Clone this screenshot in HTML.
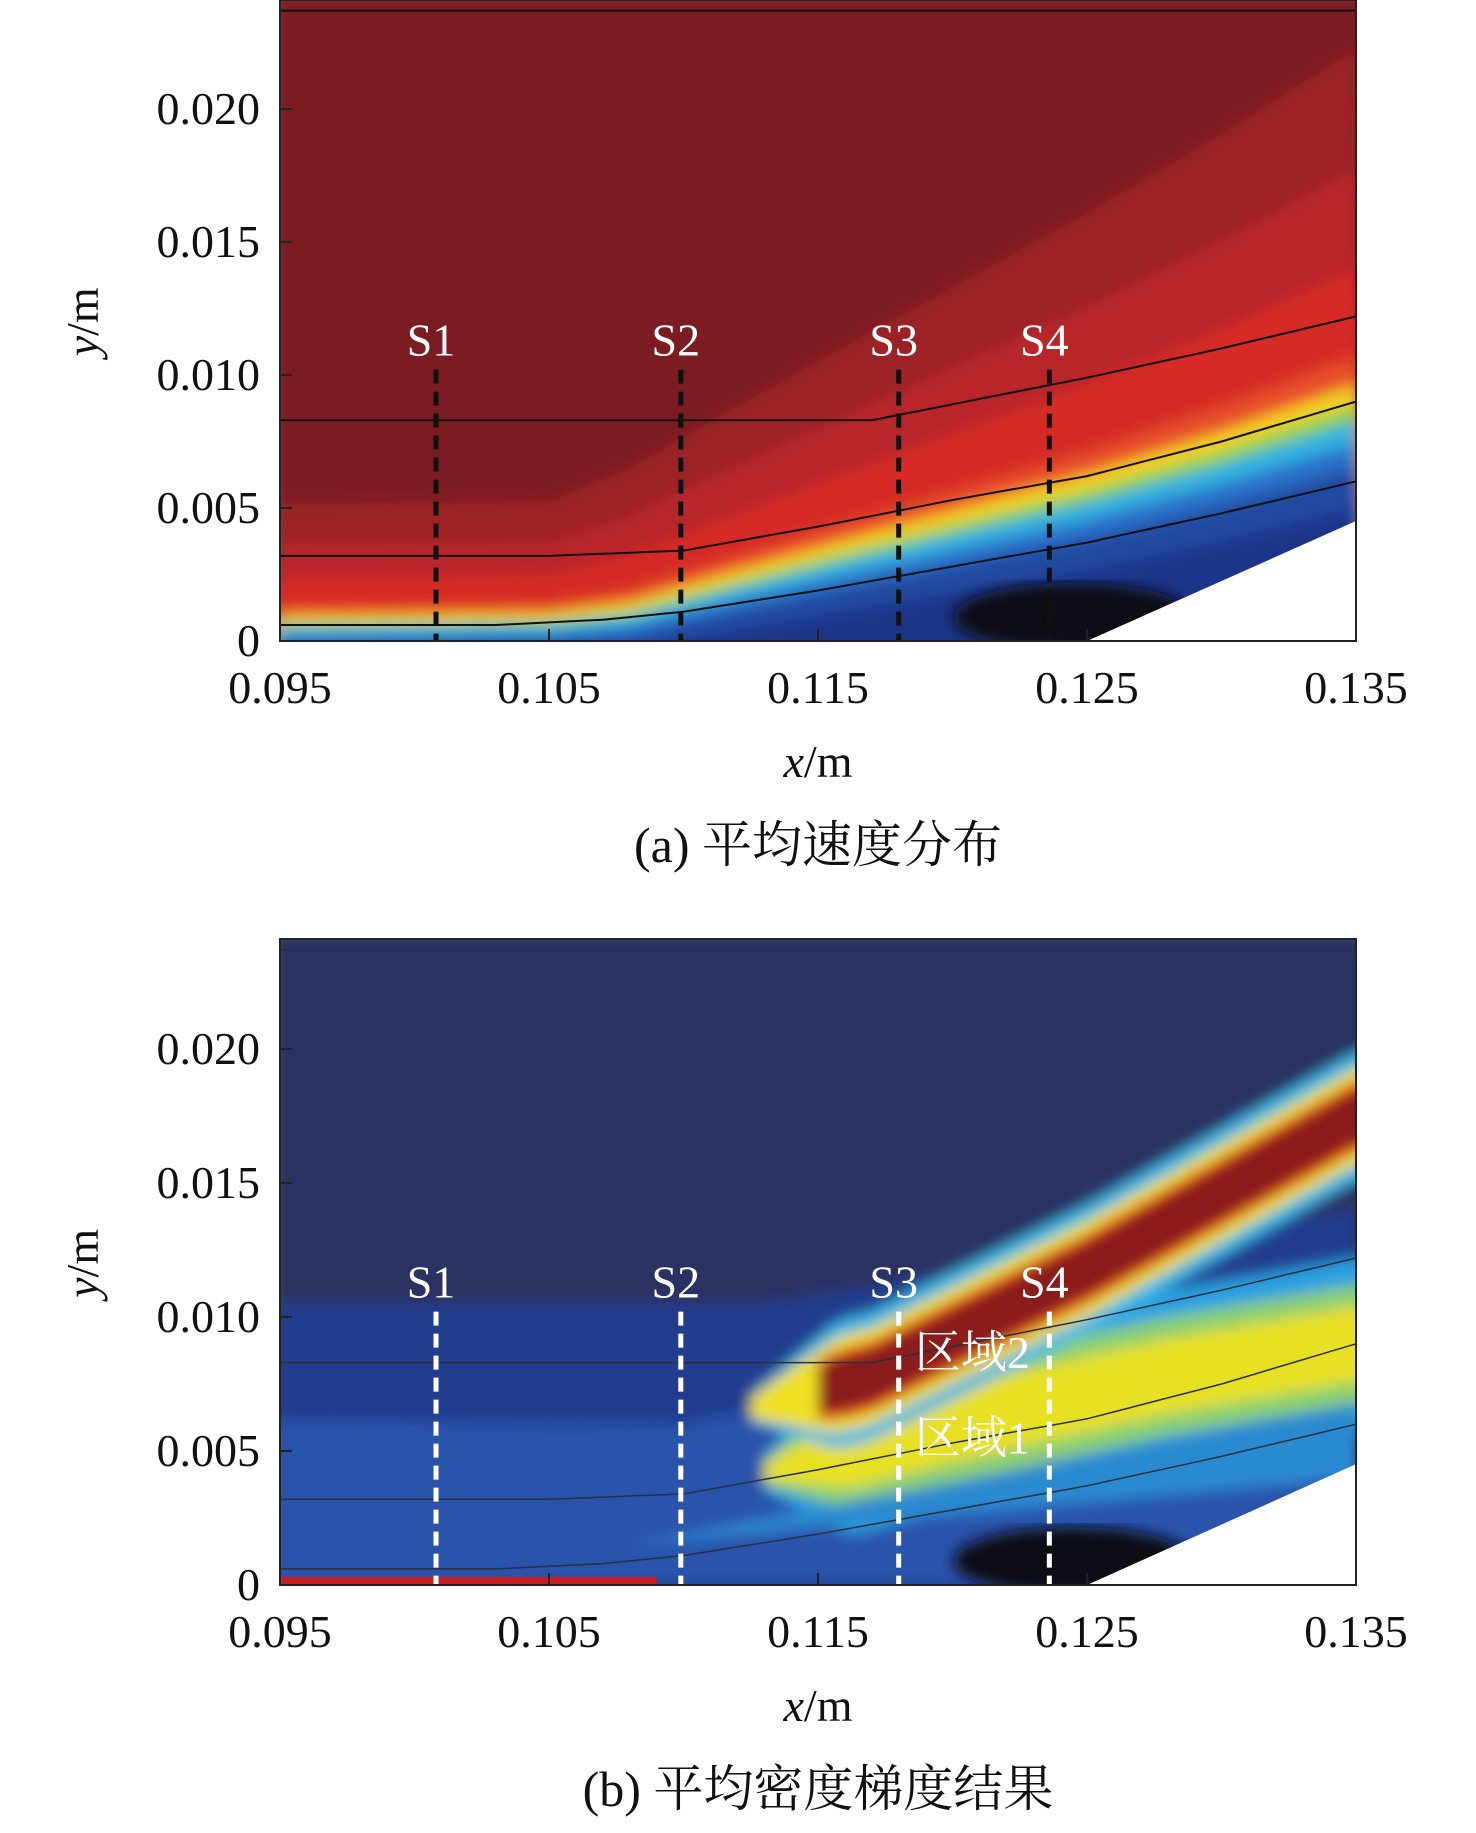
<!DOCTYPE html>
<html><head><meta charset="utf-8"><style>
html,body{margin:0;padding:0;background:#fff;}
svg{display:block;}
text{font-family:"Liberation Serif","Noto Serif CJK SC",serif;}
</style></head><body>
<svg id="fig" width="1476" height="1833" viewBox="0 0 1476 1833" xmlns="http://www.w3.org/2000/svg">
<defs>
<filter id="blur" x="-5%" y="-5%" width="110%" height="110%"><feGaussianBlur stdDeviation="7"/></filter>
<clipPath id="clipA"><rect x="280" y="0" width="1076" height="641"/></clipPath>
<clipPath id="clipB"><rect x="280" y="939" width="1076" height="646"/></clipPath>
</defs>
<g id="root"></g>
</svg>
<script>
const xTicks=[0.095,0.105,0.115,0.125,0.135];
const xTickLabels=["0.095","0.105","0.115","0.125","0.135"];
const yTicks=[0,0.005,0.010,0.015,0.020];
const yTickLabels=["0","0.005","0.010","0.015","0.020"];
const sectionNames=["S1","S2","S3","S4"];
const sectionX=[0.1008,0.1099,0.1180,0.1236];
const sectionTop=[0.0102,0.0102,0.0102,0.0102];
const edgeX=[0.095,0.105,0.108,0.111,0.115,0.120,0.125,0.130,0.135];
const edgeY=[0.0004,0.0005,0.0008,0.0016,0.0026,0.0038,0.0050,0.0064,0.0080];
const velLayerOff=[0.0095,0.0065,0.0040,0.0018,0.0011,0.0006,0.0002,-0.0004,-0.0010,-0.0020];
const velLayerColor=["#9c2228","#b8252a","#d62a28","#e8502a","#f5d020","#8fd44a","#30b0e0","#2a70c8","#2448a0","#1c3488"];
const stream1X=[0.095,0.135];const stream1Y=[0.0237,0.0237];
const stream2X=[0.095,0.117,0.120,0.125,0.130,0.135];const stream2Y=[0.0083,0.0083,0.0089,0.0099,0.0110,0.0122];
const stream3X=[0.095,0.105,0.110,0.115,0.120,0.125,0.130,0.135];const stream3Y=[0.0032,0.0032,0.0034,0.0043,0.0053,0.0062,0.0075,0.0090];
const stream4X=[0.095,0.103,0.107,0.110,0.115,0.120,0.125,0.130,0.135];const stream4Y=[0.0006,0.0006,0.0008,0.0011,0.0019,0.0028,0.0037,0.0048,0.0060];
const shockX=[0.1125,0.117,0.125,0.135];const shockY=[0.0066,0.0078,0.0118,0.0175];
const zone1X=[0.113,0.120,0.128,0.135];const zone1Y=[0.0042,0.0060,0.0078,0.0090];

const NS="http://www.w3.org/2000/svg";
const root=document.getElementById('root');
function X(v){return 280+(v-0.095)/0.04*1076;}
function mk(tag,attrs,parent){const e=document.createElementNS(NS,tag);for(const k in attrs)e.setAttribute(k,attrs[k]);(parent||root).appendChild(e);return e;}
function interp(xs,ys,x){if(x<=xs[0])return ys[0];for(let i=1;i<xs.length;i++){if(x<=xs[i]){const t=(x-xs[i-1])/(xs[i]-xs[i-1]);return ys[i-1]+t*(ys[i]-ys[i-1]);}}return ys[ys.length-1];}
function w(x){return x<=0.105?0.5:0.5+(x-0.105)/0.03*1.0;}
function curvePts(fn,Y){let p=[];for(let x=0.095;x<=0.13501;x+=0.0005)p.push(X(x).toFixed(1)+","+Y(fn(x)).toFixed(1));return p;}

function panel(Y,top,bottom,clipId,kind){
  const g=mk('g',{'clip-path':'url(#'+clipId+')'});
  
  
  const fg=mk('g',{filter:'url(#blur)'},g);
  if(kind==='a'){
    mk('rect',{x:270,y:top-10,width:1100,height:bottom-top+20,fill:'#7a1f24'},fg);
    for(let i=0;i<velLayerOff.length;i++){
      const off=velLayerOff[i];
      const pts=curvePts(x=>interp(edgeX,edgeY,x)+off*w(x),Y);
      pts.push("1370,"+(bottom+20),"270,"+(bottom+20));
      const p=mk('polygon',{points:pts.join(" "),fill:velLayerColor[i]},fg);
      
      
    }
  } else {
    mk('rect',{x:270,y:top-10,width:1100,height:bottom-top+20,fill:'#2b3262'},fg);
    mk('polygon',{points:[X(0.090)+","+Y(0.0105),X(0.113)+","+Y(0.0105),X(0.135)+","+Y(0.014),X(0.135)+","+Y(-0.001),X(0.090)+","+Y(-0.001)].join(" "),fill:'#243e8e'},fg);
    mk('polygon',{points:[X(0.090)+","+Y(0.0062),X(0.110)+","+Y(0.0060),X(0.135)+","+Y(0.011),X(0.135)+","+Y(0.0),X(0.090)+","+Y(0.0)].join(" "),fill:'#2a52ac'},fg);
    const bands=[[0.0032,'#2aa0e0',zone1X,zone1Y],[0.0022,'#8cd070',zone1X,zone1Y],[0.0014,'#e8e020',zone1X,zone1Y],
                 [0.0024,'#3ab8e8',shockX,shockY],[0.0018,'#f0e020',shockX,shockY],[0.0013,'#e03020',shockX,shockY],[0.0010,'#8a1a1a',shockX,shockY]];
    for(const b of bands){
      const up=[],dn=[];const x0=b[2][0]+(b[0]<0.0014&&b[2]===shockX?0.0025:0);
      for(let x=x0;x<=0.1371;x+=0.0005){const c=interp(b[2],b[3],x);const h=b[0]*Math.min(1,(x-b[2][0]+0.0008)/0.004);up.push(X(x).toFixed(1)+","+Y(c+h).toFixed(1));dn.unshift(X(x).toFixed(1)+","+Y(c-h).toFixed(1));}
      const p=mk('polygon',{points:up.concat(dn).join(" "),fill:b[1]},fg);
      
      
    }
    mk('polygon',{points:[X(0.108)+","+Y(0.0015),X(0.135)+","+Y(0.0068),X(0.135)+","+Y(0.004)].join(" "),fill:'#2a8ad0'},fg);
    mk('rect',{x:280,y:Y(0.0003),width:X(0.109)-280,height:Y(0)-Y(0.0003),fill:'#c82020'},g);
  }
  const ell=mk('ellipse',{cx:X(0.1245),cy:Y(0.0009),rx:120,ry:34,fill:'#0a0a14',filter:'url(#blur)'},g);
  
  
  const wedge=mk('polygon',{points:[X(0.125)+","+Y(0),X(0.1352)+","+Y(0),X(0.1352)+","+Y(0.0046)].join(" "),fill:'#fff'},g);
  
  
  const sx=[stream1X,stream2X,stream3X,stream4X],sy=[stream1Y,stream2Y,stream3Y,stream4Y];
  for(let i=0;i<4;i++){
    const pts=[];for(let x=0.095;x<=0.13501;x+=0.001)pts.push(X(x).toFixed(1)+","+Y(interp(sx[i],sy[i],x)).toFixed(1));
    const l=mk('polyline',{points:pts.join(" "),fill:'none',stroke:kind==='a'?'#111':'#2a3040','stroke-width':kind==='a'?2:1.5},g);
    
    
  }
  for(let i=0;i<sectionX.length;i++){
    const l=mk('line',{x1:X(sectionX[i]),x2:X(sectionX[i]),y1:Y(sectionTop[i]),y2:Y(0),stroke:kind==='a'?'#111':'#fff','stroke-width':5,'stroke-dasharray':'14,8'},g);
    
    
    const t=mk('text',{x:X(sectionX[i])-5,y:Y(sectionTop[i])-14,'text-anchor':'middle','font-size':46,fill:'#fff'});
    t.textContent=sectionNames[i];
    
    
  }
  if(kind==='b'){
    const z2=mk('text',{x:X(0.1186),y:Y(0.0081),'font-size':46,fill:'#fff'});z2.textContent="区域2";
    
    const z1=mk('text',{x:X(0.1186),y:Y(0.0049),'font-size':46,fill:'#fff'});z1.textContent="区域1";
    
  }
  const fr=mk('rect',{x:280,y:top,width:1076,height:bottom-top,fill:'none',stroke:'#222','stroke-width':2});
  
  for(let i=0;i<yTicks.length;i++){
    const yy=Y(yTicks[i]);
    mk('line',{x1:280,x2:292,y1:yy,y2:yy,stroke:'#222','stroke-width':2});
    const t=mk('text',{x:260,y:yy+15,'text-anchor':'end','font-size':46,fill:'#111'});
    t.textContent=yTickLabels[i];
    
  }
  for(let i=0;i<xTicks.length;i++){
    const xx=X(xTicks[i]);
    mk('line',{x1:xx,x2:xx,y1:bottom,y2:bottom-12,stroke:'#222','stroke-width':2});
    const t=mk('text',{x:xx,y:bottom+62,'text-anchor':'middle','font-size':46,fill:'#111'});
    t.textContent=xTickLabels[i];
    
  }
  const xt=mk('text',{x:818,y:bottom+136,'text-anchor':'middle','font-size':46,fill:'#111'});
  xt.innerHTML='<tspan font-style="italic">x</tspan>/m';
  
  const yt=mk('text',{x:0,y:0,'text-anchor':'middle','font-size':46,fill:'#111',transform:'translate(98,'+Y(0.012)+') rotate(-90)'});
  yt.innerHTML='<tspan font-style="italic">y</tspan>/m';
  
}
const Ya=v=>641-v/0.005*133;
const Yb=v=>1585-v/0.005*134;
panel(Ya,0,641,'clipA','a');
panel(Yb,939,1585,'clipB','b');
const c1=mk('text',{x:818,y:862,'text-anchor':'middle','font-size':50,fill:'#111'});c1.textContent="(a) 平均速度分布";

const c2=mk('text',{x:818,y:1806,'text-anchor':'middle','font-size':50,fill:'#111'});c2.textContent="(b) 平均密度梯度结果";

</script>
</body></html>
